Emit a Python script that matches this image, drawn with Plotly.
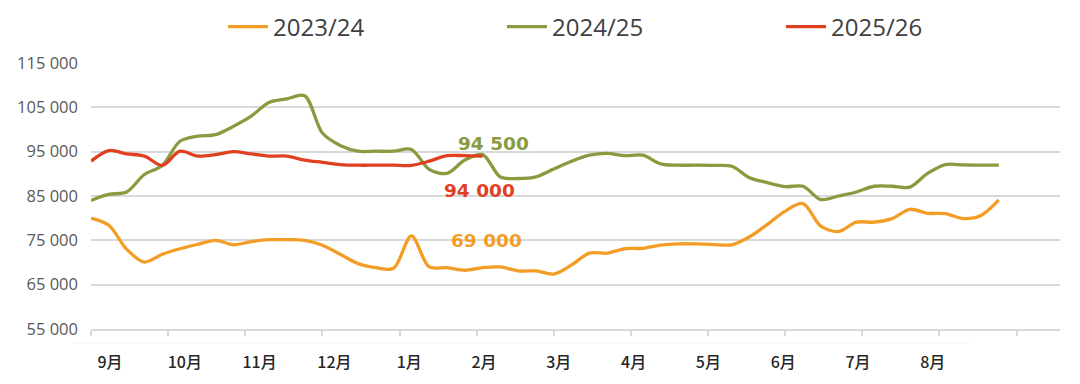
import plotly.graph_objects as go

# ---------------- data ----------------
months = ["9月", "10月", "11月", "12月", "1月", "2月", "3月", "4月", "5月", "6月", "7月", "8月"]
y_ticks = [55000, 65000, 75000, 85000, 95000, 105000, 115000]

# weekly series (week index 0..51 from start of September)
s2023_24 = [80000, 78400, 73000, 70100, 71850, 73100, 74100, 75000, 74000, 74700,
            75150, 75150, 75000, 73900, 71850, 69750, 68850, 68700, 76000, 69000,
            68850, 68250, 68850, 69000, 68100, 68100, 67400, 69450, 72100, 72100,
            73100, 73200, 73900, 74200, 74200, 74050, 74000, 75800, 78600, 81600,
            83300, 78200, 77000, 79100, 79100, 79900, 82000, 81100, 81000, 79900,
            80600, 84100]
s2024_25 = [84000, 85350, 85900, 89850, 91900, 97350, 98500, 98850, 100700, 103000,
            106100, 106900, 107600, 99200, 96400, 95100, 95100, 95100, 95500, 91000,
            90100, 93100, 94350, 89300, 88950, 89300, 91100, 92850, 94200, 94600,
            94100, 94200, 92250, 91950, 91950, 91900, 91700, 89100, 88000, 87100,
            87200, 84200, 85000, 85900, 87200, 87200, 87000, 90100, 92100, 92000,
            91950, 91950]
s2025_26 = [92850, 95250, 94500, 94000, 91900, 95100, 94000, 94350, 95000, 94500,
            94000, 94000, 93100, 92600, 92100, 91950, 91950, 91950, 91900, 92850,
            94100, 94100, 94000]

series_names = ["2023/24", "2024/25", "2025/26"]
series_values = [s2023_24, s2024_25, s2025_26]
series_colors = ["#F39C26", "#889B3F", "#E0401F"]

callout_text = ["94 500", "94 000", "69 000"]
callout_series = [1, 2, 0]

# ---------------- figure ----------------
OFF = 8  # page body margin of the html page
W, H = 1080 - OFF, 384 - OFF
ML, MR, MT, MB = 91 - OFF, 20, 63 - OFF, 55
WEEKS_PER_MONTH = 52 / 12
PX_PER_WEEK = 17.8
x_max = (W - MR - ML) / PX_PER_WEEK

fig = go.Figure()
for name, vals, col in zip(series_names, series_values, series_colors):
    fig.add_trace(go.Scatter(
        x=list(range(len(vals))), y=vals, name=name, mode="lines",
        line=dict(color=col, width=3.3, shape="spline", smoothing=0.9),
        hoverinfo="x+y+name",
    ))

# month label positions (labels sit a little right of each month boundary)
label_pos = [(19 + 74.8 * i) / PX_PER_WEEK for i in range(len(months))]
boundaries = [i * WEEKS_PER_MONTH for i in range(len(months) + 1)]

fig.update_layout(
    width=W, height=H,
    margin=dict(l=ML, r=MR, t=MT, b=MB, autoexpand=False),
    paper_bgcolor="white", plot_bgcolor="white",
    separators=". ",
    showlegend=True,
    legend=dict(
        orientation="h", xref="container", yref="container",
        x=(224 - OFF - 1) / W, y=1 - (27 - OFF) / H, xanchor="left", yanchor="middle",
        font=dict(family="Open Sans", size=24, color="#404040"),
        entrywidth=224, entrywidthmode="pixels",
        itemwidth=40, bgcolor="rgba(0,0,0,0)",
    ),
    xaxis=dict(
        range=[0, x_max], showgrid=False, zeroline=False,
        showline=True, linecolor="#d9d9d9", linewidth=1.5,
        tickmode="array", tickvals=label_pos, ticktext=months,
        ticks="", ticklabelstandoff=18,
        tickfont=dict(family="Noto Sans CJK SC", size=16, color="#262626", weight=500),
        minor=dict(tickmode="array", tickvals=boundaries, ticks="outside",
                   ticklen=5, tickcolor="#d9d9d9", tickwidth=1.5, showgrid=False),
    ),
    yaxis=dict(
        range=[55000, 115000], tickmode="array", tickvals=y_ticks,
        tickformat=",d", showgrid=True, gridcolor="#d9d9d9", gridwidth=1.5,
        zeroline=False, showline=False, ticks="", ticklabelstandoff=12,
        tickfont=dict(family="Open Sans", size=16.5, color="#595959"),
    ),
)

# faint separator under the axis
fig.add_shape(type="line", xref="paper", yref="paper",
              x0=-(91 - 73) / (W - ML - MR), x1=(970 - 91) / (W - ML - MR),
              y0=-14 / (H - MT - MB), y1=-14 / (H - MT - MB),
              line=dict(color="#f0f0f0", width=1))

# value callouts
callout_xy = [(22.6, 96950), (21.8, 86200), (22.2, 75050)]
for txt, si, (cx, cy) in zip(callout_text, callout_series, callout_xy):
    fig.add_annotation(x=cx, y=cy, text="<b>" + txt + "</b>", showarrow=False,
                       xanchor="center", yanchor="middle",
                       font=dict(family="DejaVu Sans", size=18.5, color=series_colors[si]))

fig.write_html("out.html")
